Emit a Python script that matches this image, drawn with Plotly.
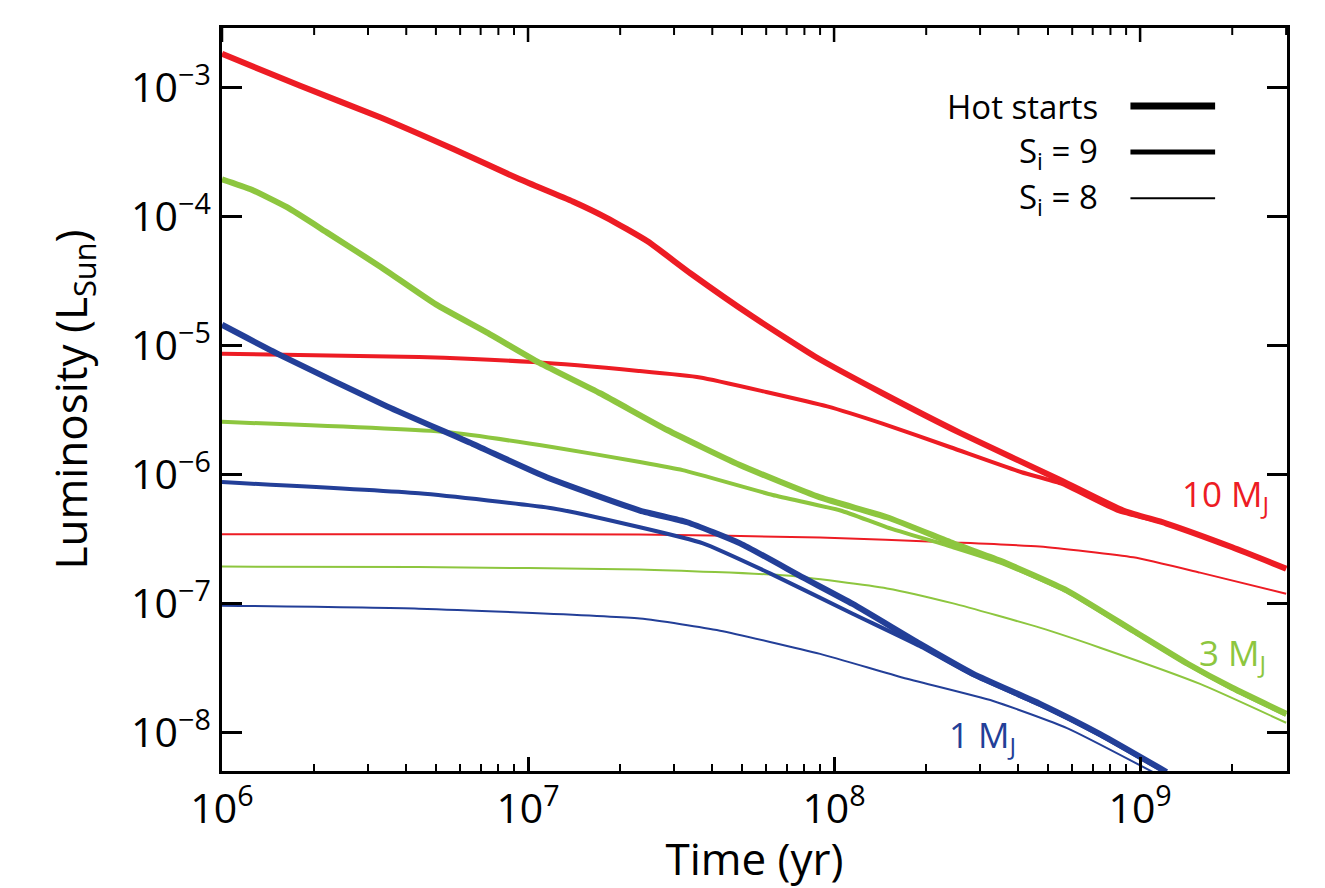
import plotly.graph_objects as go

# ---------------- data ----------------
# 10 M_J
red_hot_t = [1.0e6, 1.8e6, 3.3e6, 5.7e6, 9.4e6, 1.4e7, 1.8e7, 2.45e7, 3.4e7, 5.4e7,
             8.8e7, 1.44e8, 2.6e8, 5.5e8, 8.8e8, 1.22e9, 2.0e9, 3.0e9]
red_hot_L = [1.84e-3, 1.04e-3, 5.9e-4, 3.36e-4, 1.96e-4, 1.32e-4, 9.9e-5, 6.5e-5, 3.65e-5, 1.7e-5,
             8.1e-6, 4.3e-6, 2.1e-6, 9.1e-7, 5.3e-7, 4.2e-7, 2.75e-7, 1.88e-7]
red_s9_t = [1.0e6, 4.4e6, 1.04e7, 2.3e7, 3.65e7, 6.0e7, 9.5e7, 1.44e8, 2.4e8, 4.1e8,
            5.5e8, 8.4e8, 1.22e9, 2.0e9, 3.0e9]
red_s9_L = [8.7e-6, 8.2e-6, 7.5e-6, 6.4e-6, 5.7e-6, 4.4e-6, 3.4e-6, 2.5e-6, 1.64e-6, 1.05e-6,
            8.6e-7, 5.3e-7, 4.2e-7, 2.75e-7, 1.88e-7]
red_s8_t = [1.0e6, 5.0e6, 2.3e7, 9.0e7, 2.45e8, 4.7e8, 9.5e8, 1.57e9, 3.0e9]
red_s8_L = [3.47e-7, 3.47e-7, 3.45e-7, 3.28e-7, 3.0e-7, 2.79e-7, 2.3e-7, 1.75e-7, 1.2e-7]

# 3 M_J
green_hot_t = [1.0e6, 1.24e6, 1.63e6, 2.2e6, 3.3e6, 5.0e6, 7.35e6, 1.09e7, 1.72e7, 2.85e7,
               4.9e7, 9.0e7, 1.49e8, 2.45e8, 3.48e8, 5.77e8, 9.5e8, 1.43e9, 2.0e9, 3.0e9]
green_hot_L = [1.96e-4, 1.64e-4, 1.19e-4, 7.6e-5, 4.1e-5, 2.1e-5, 1.27e-5, 7.4e-6, 4.3e-6, 2.23e-6,
               1.2e-6, 6.7e-7, 4.7e-7, 2.95e-7, 2.17e-7, 1.27e-7, 6.2e-8, 3.44e-8, 2.24e-8, 1.41e-8]
green_s9_t = [1.0e6, 5.4e6, 1.21e7, 2.32e7, 3.2e7, 6.3e7, 1.05e8, 1.49e8, 2.45e8, 3.48e8,
              5.77e8, 9.5e8, 1.43e9, 2.0e9, 3.0e9]
green_s9_L = [2.58e-6, 2.15e-6, 1.64e-6, 1.26e-6, 1.09e-6, 7.0e-7, 5.3e-7, 3.93e-7, 2.75e-7, 2.1e-7,
              1.25e-7, 6.1e-8, 3.4e-8, 2.2e-8, 1.38e-8]
green_s8_t = [1.0e6, 4.4e6, 2.32e7, 7.0e7, 1.49e8, 2.45e8, 4.7e8, 7.4e8, 1.57e9, 3.0e9]
green_s8_L = [1.95e-7, 1.93e-7, 1.85e-7, 1.66e-7, 1.32e-7, 1.01e-7, 6.55e-8, 4.58e-8, 2.4e-8, 1.2e-8]

# 1 M_J
blue_hot_t = [1.0e6, 1.55e6, 3.46e6, 6.6e6, 1.15e7, 2.32e7, 3.31e7, 4.93e7, 7.93e7, 1.15e8,
              1.91e8, 2.85e8, 4.71e8, 7.4e8, 1.22e9]
blue_hot_L = [1.46e-5, 8.5e-6, 3.4e-6, 1.74e-6, 9.6e-7, 5.3e-7, 4.3e-7, 2.95e-7, 1.6e-7, 1.0e-7,
              4.9e-8, 2.87e-8, 1.68e-8, 9.8e-9, 4.98e-9]
blue_s9_t = [1.0e6, 4.4e6, 1.21e7, 2.32e7, 3.73e7, 6.2e7, 1.15e8, 1.91e8, 2.85e8, 4.71e8,
             7.4e8, 1.22e9]
blue_s9_L = [8.8e-7, 7.2e-7, 5.5e-7, 3.93e-7, 2.95e-7, 1.72e-7, 8.4e-8, 4.7e-8, 2.8e-8, 1.65e-8,
             9.6e-9, 4.9e-9]
blue_s8_t = [1.0e6, 4.4e6, 2.32e7, 4.24e7, 9.0e7, 1.68e8, 3.31e8, 5.77e8, 1.1e9]
blue_s8_L = [9.7e-8, 9.2e-8, 7.7e-8, 6.2e-8, 4.1e-8, 2.68e-8, 1.77e-8, 1.09e-8, 4.98e-9]

x_tick_vals = [1e6, 1e7, 1e8, 1e9]
x_tick_text = ["10<sup>6</sup>", "10<sup>7</sup>", "10<sup>8</sup>", "10<sup>9</sup>"]
y_tick_vals = [1e-8, 1e-7, 1e-6, 1e-5, 1e-4, 1e-3]
y_tick_text = ["10<sup>−8</sup>", "10<sup>−7</sup>", "10<sup>−6</sup>",
               "10<sup>−5</sup>", "10<sup>−4</sup>", "10<sup>−3</sup>"]

legend_labels = ["Hot starts", "S<sub>i</sub> = 9", "S<sub>i</sub> = 8"]
mass_labels = ["10 M<sub>J</sub>", "3 M<sub>J</sub>", "1 M<sub>J</sub>"]

RED = "#ED1C24"
GREEN = "#8DC63F"
BLUE = "#233F98"
W_HOT, W_S9, W_S8 = 6, 4, 2
FONT = "Open Sans"

X_RANGE = [6, 9.48]
Y_RANGE = [-8.295, -2.535]
PLOT_H = 888 - 28 - 117
minor_x = [m * 10 ** e for e in range(6, 10) for m in range(2, 10)]

fig = go.Figure()

curves = [
    (red_s8_t, red_s8_L, RED, W_S8),
    (green_s8_t, green_s8_L, GREEN, W_S8),
    (blue_s8_t, blue_s8_L, BLUE, W_S8),
    (red_s9_t, red_s9_L, RED, W_S9),
    (green_s9_t, green_s9_L, GREEN, W_S9),
    (blue_s9_t, blue_s9_L, BLUE, W_S9),
    (red_hot_t, red_hot_L, RED, W_HOT),
    (green_hot_t, green_hot_L, GREEN, W_HOT),
    (blue_hot_t, blue_hot_L, BLUE, W_HOT),
]
for t, L, c, w in curves:
    fig.add_trace(go.Scatter(x=t, y=L, mode="lines", showlegend=False, hoverinfo="skip",
                             line=dict(color=c, width=w, shape="spline", smoothing=0.5)))

# ticks along the top frame (mirror of the bottom axis): drawn through the axes' own scales
dec_per_px = (Y_RANGE[1] - Y_RANGE[0]) / PLOT_H
y_top = 10 ** Y_RANGE[1]
for vals, ln, wd in [(x_tick_vals, 14, 2.5), (minor_x, 7, 2)]:
    xs, ys = [], []
    for v in vals:
        if v > 10 ** X_RANGE[1]:
            continue
        xs += [v, v, None]
        ys += [y_top, 10 ** (Y_RANGE[1] - ln * dec_per_px), None]
    fig.add_trace(go.Scatter(x=xs, y=ys, mode="lines", showlegend=False, hoverinfo="skip",
                             cliponaxis=False, line=dict(color="black", width=wd)))

# custom legend (text left of line sample)
leg_y = [0.895, 0.833, 0.771]
leg_w = [7, 5, 2]
for lab, yy, ww in zip(legend_labels, leg_y, leg_w):
    fig.add_annotation(xref="paper", yref="paper", x=0.8245, y=yy, text=lab, showarrow=False,
                       xanchor="right", yanchor="middle", font=dict(family=FONT, size=33, color="black"))
    fig.add_shape(type="line", xref="paper", yref="paper", x0=0.853, x1=0.9325, y0=yy, y1=yy,
                  line=dict(color="black", width=ww))

# mass labels
fig.add_annotation(x=9.28, y=-6.163, xref="x", yref="y", text=mass_labels[0], showarrow=False,
                   font=dict(family=FONT, size=35, color=RED), xanchor="center", yanchor="middle")
fig.add_annotation(x=9.303, y=-7.389, xref="x", yref="y", text=mass_labels[1], showarrow=False,
                   font=dict(family=FONT, size=35, color=GREEN), xanchor="center", yanchor="middle")
fig.add_annotation(x=8.486, y=-8.025, xref="x", yref="y", text=mass_labels[2], showarrow=False,
                   font=dict(family=FONT, size=35, color=BLUE), xanchor="center", yanchor="middle")

tickfont = dict(family=FONT, size=41, color="black")

fig.update_layout(
    xaxis=dict(type="log", range=X_RANGE, tickmode="array", tickvals=x_tick_vals,
               ticktext=x_tick_text, ticks="inside", ticklen=14, tickwidth=2.5, tickcolor="black",
               minor=dict(tickmode="array", tickvals=minor_x, ticks="inside", ticklen=7,
                          tickwidth=2, tickcolor="black", showgrid=False),
               showline=True, linecolor="black", linewidth=3, mirror=True,
               showgrid=False, zeroline=False, tickfont=tickfont,
               title=dict(text="Time (yr)", font=dict(family=FONT, size=44, color="black"), standoff=8)),
    yaxis=dict(type="log", range=Y_RANGE, tickmode="array", tickvals=y_tick_vals,
               ticktext=y_tick_text, ticks="inside", ticklen=20, tickwidth=2.5, tickcolor="black",
               showline=True, linecolor="black", linewidth=3, mirror="ticks",
               showgrid=False, zeroline=False, tickfont=tickfont,
               title=dict(text="Luminosity (L<sub>Sun</sub>)", font=dict(family=FONT, size=44, color="black"),
                          standoff=30)),
    width=1325, height=888, margin=dict(l=222, r=38, t=28, b=117),
    plot_bgcolor="white", paper_bgcolor="white", font=dict(family=FONT),
)

fig.write_html("out.html")
